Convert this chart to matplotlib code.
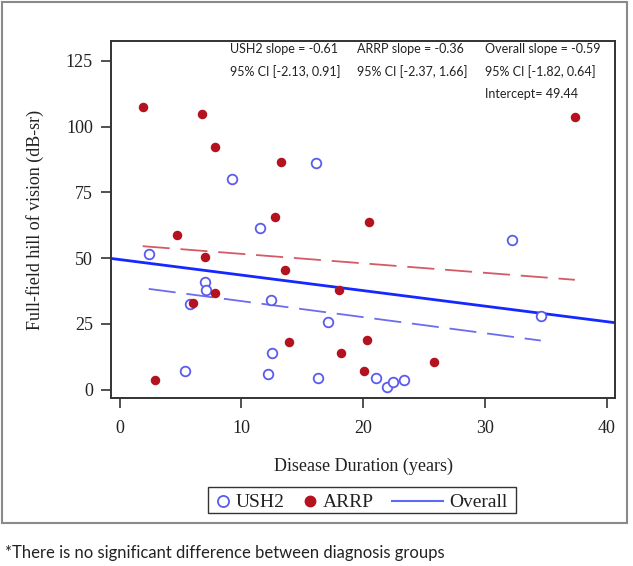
import matplotlib
matplotlib.use("Agg")
import matplotlib.pyplot as plt
import numpy as np
from matplotlib.lines import Line2D
from matplotlib.patches import Rectangle

# Data
ush2_years = [2.4, 5.4, 5.8, 7.0, 7.1, 9.2, 11.5, 12.2, 12.4, 12.5,
              16.1, 16.3, 17.1, 21.1, 22.0, 22.5, 23.4, 32.2, 34.6]
ush2_hill = [51.5, 7.1, 32.4, 40.9, 37.9, 80.2, 61.5, 6.0, 34.0, 13.9,
             86.2, 4.3, 25.7, 4.4, 1.0, 2.9, 3.8, 56.9, 28.1]

arrp_years = [1.9, 2.9, 4.7, 6.0, 6.8, 7.0, 7.8, 7.8, 12.8, 13.3,
              13.6, 13.9, 18.0, 18.2, 20.1, 20.3, 20.5, 25.8, 37.4]
arrp_hill = [107.5, 3.5, 58.7, 32.8, 104.8, 50.3, 92.1, 36.6, 65.7, 86.4,
             45.6, 18.0, 37.8, 14.1, 7.1, 18.9, 63.9, 10.5, 103.7]

# fit lines (slopes from the annotations, intercepts)
ush2_slope, ush2_intercept = -0.61, 39.75
arrp_slope, arrp_intercept = -0.36, 55.2
overall_slope, overall_intercept = -0.59, 49.44

notes = [
    "USH2 slope = -0.61\n95% CI [-2.13, 0.91]",
    "ARRP slope = -0.36\n95% CI [-2.37, 1.66]",
    "Overall slope = -0.59\n95% CI [-1.82, 0.64]\nIntercept= 49.44",
]
legend_labels = ["USH2", "ARRP", "Overall"]

RED = "#B3121E"
BLUE = "#5B5BEE"
W, H = 633, 566


def fig_xy(x, y):
    """pixel position (from top left) -> figure fraction"""
    return x / W, 1 - y / H


fig = plt.figure(figsize=(6.33, 5.66), dpi=100)
ax = fig.add_axes([0.1754, 0.2968, 0.7962, 0.6302])

ax.set_xlim(-0.7, 40.7)
ax.set_ylim(-3.2, 132.4)

# overall regression line across the whole axis
xo = np.array(ax.get_xlim())
ax.plot(xo, overall_intercept + overall_slope * xo, color="#1428FF", lw=2.0, zorder=2)

# group regression lines over each group's range
xu = np.array([min(ush2_years), max(ush2_years)])
ax.plot(xu, ush2_intercept + ush2_slope * xu, color="#6C6CF0", lw=1.3,
        dashes=(15, 6), zorder=2)
xa = np.array([min(arrp_years), max(arrp_years)])
ax.plot(xa, arrp_intercept + arrp_slope * xa, color="#D45A66", lw=1.3,
        dashes=(15, 6), zorder=2)

ax.scatter(ush2_years, ush2_hill, s=48, facecolors="white", edgecolors=BLUE,
           linewidths=1.3, zorder=3)
ax.scatter(arrp_years, arrp_hill, s=34, color=RED, zorder=4)

ax.set_xticks([0, 10, 20, 30, 40])
ax.set_yticks([0, 25, 50, 75, 100, 125])
for lab in ax.get_xticklabels() + ax.get_yticklabels():
    lab.set_fontfamily("Liberation Serif")
    lab.set_fontsize(13)
    lab.set_color("#222222")
ax.tick_params(direction="out", length=7, width=1.2, color="#333333", pad=6)
ax.tick_params(axis="x", pad=9)
for s in ax.spines.values():
    s.set_linewidth(1.4)
    s.set_color("#333333")

ax.set_xlabel("Disease Duration (years)", fontfamily="Liberation Serif",
              fontsize=13, color="#222222", labelpad=15)
ax.set_ylabel("Full-field hill of vision (dB-sr)", fontfamily="Liberation Serif",
              fontsize=13, color="#222222", labelpad=16)

# slope annotations
for xpix, txt in zip([230, 357, 485], notes):
    fig.text(*fig_xy(xpix, 43), txt, fontfamily="Lato", fontsize=9.0,
             color="#222222", va="top", ha="left", linespacing=1.95)

# legend, laid out by hand to get the short marker slots of the original
fig.add_artist(Rectangle(fig_xy(208, 513), 308 / W, 26 / H,
                         transform=fig.transFigure, fill=False,
                         edgecolor="#333333", lw=1.0))
ly = 500.5
fig.add_artist(Line2D([fig_xy(223, ly)[0]], [fig_xy(223, ly)[1]], marker="o",
                      ls="none", markerfacecolor="white", markeredgecolor=BLUE,
                      markersize=8, markeredgewidth=1.3,
                      transform=fig.transFigure))
fig.add_artist(Line2D([fig_xy(310, ly)[0]], [fig_xy(310, ly)[1]], marker="o",
                      ls="none", color=RED, markersize=7.5,
                      transform=fig.transFigure))
fig.add_artist(Line2D([fig_xy(392, ly)[0], fig_xy(443, ly)[0]],
                      [fig_xy(392, ly)[1]] * 2, color="#5B6BF5", lw=1.5,
                      transform=fig.transFigure))
for xpix, lab in zip([236, 323, 449], legend_labels):
    fig.text(*fig_xy(xpix, ly), lab, fontfamily="Liberation Serif", fontsize=14,
             color="#222222", va="center_baseline", ha="left")

# outer frame around the chart
fig.add_artist(Rectangle(fig_xy(2, 523), 625 / W, 521 / H,
                         transform=fig.transFigure, fill=False,
                         edgecolor="#8A8A8A", lw=1.5))

fig.text(*fig_xy(5, 553),
         "*There is no significant difference between diagnosis groups",
         fontfamily="Lato", fontsize=12.0, color="#222222", va="center", ha="left")

fig.savefig("out.png", dpi=100)
